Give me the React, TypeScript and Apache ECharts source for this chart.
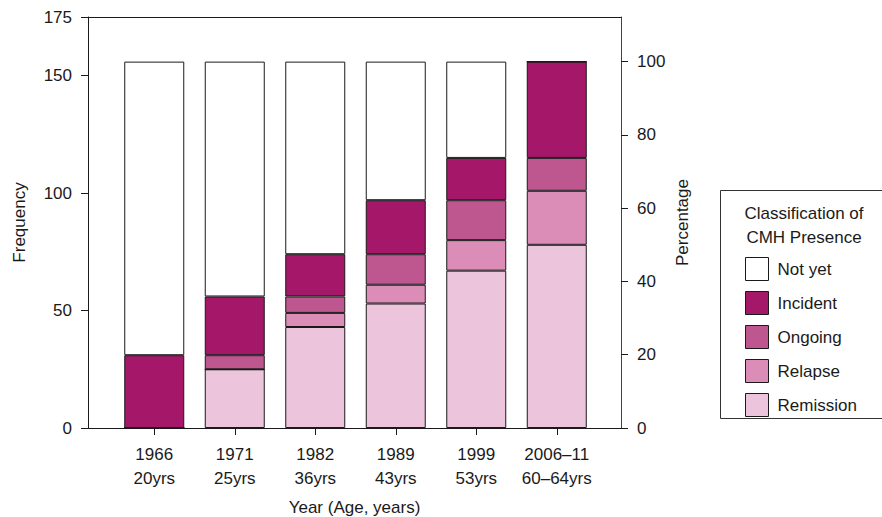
import React, { useEffect, useRef } from "react";
import * as echarts from "echarts";

// Survey waves (year / age) and CMH status counts per wave
const years = ["1966\n20yrs", "1971\n25yrs", "1982\n36yrs", "1989\n43yrs", "1999\n53yrs", "2006–11\n60–64yrs"];
const remission = [0, 25, 43, 53, 67, 78];
const relapse = [0, 0, 6, 8, 13, 23];
const ongoing = [0, 6, 7, 13, 17, 14];
const incident = [31, 25, 18, 23, 18, 41];
const notYet = [125, 100, 82, 59, 41, 0];

const cohortSize = 156;
const freqMax = 175;
const freqStep = 50;
const pctMax = 100;
const pctStep = 20;

const FONT = "'Liberation Sans', Arial, Helvetica, sans-serif";
const INK = "#1a1a1a";

// plot frame geometry
const PLOT_LEFT = 88;
const PLOT_TOP = 17;
const PLOT_W = 533;
const PLOT_H = 411;
const pxPerUnit = PLOT_H / freqMax;
const pctH = cohortSize * pxPerUnit;

export default function App() {
  const ref = useRef<HTMLDivElement>(null);

  useEffect(() => {
    document.body.style.margin = "0";
    const chart = echarts.init(ref.current!, null, { renderer: "svg" });

    const mk = (name: string, data: number[], color: string) => ({
      name,
      type: "bar",
      stack: "total",
      data,
      xAxisIndex: 2,
      yAxisIndex: 2,
      barWidth: 60,
      itemStyle: { color, borderColor: INK, borderWidth: 1 },
      emphasis: { disabled: true },
    });

    const lineOnly = {
      axisLine: { show: true, onZero: false, lineStyle: { color: INK, width: 1 } },
      axisTick: { show: false },
      axisLabel: { show: false },
      splitLine: { show: false },
    };

    const gridBase = { outerBoundsMode: "none", containLabel: false };

    chart.setOption({
      animation: false,
      textStyle: { fontFamily: FONT, color: INK },
      grid: [
        { left: PLOT_LEFT, top: PLOT_TOP, width: PLOT_W, height: PLOT_H, ...gridBase },
        { left: 114, top: PLOT_TOP, width: 483, height: PLOT_H, ...gridBase },
        { left: PLOT_LEFT, top: PLOT_TOP + PLOT_H - pctH, width: PLOT_W, height: pctH, ...gridBase },
      ],
      xAxis: [
        {
          gridIndex: 0,
          type: "value",
          position: "bottom",
          min: 1,
          max: 2,
          ...lineOnly,
          name: "Year (Age, years)",
          nameLocation: "middle",
          nameGap: 71,
          nameTextStyle: { fontSize: 17, color: INK, fontFamily: FONT },
        },
        { gridIndex: 0, type: "value", position: "top", min: 1, max: 2, ...lineOnly },
        {
          gridIndex: 1,
          type: "category",
          data: years,
          axisLine: { show: false, onZero: false },
          axisTick: { show: true, alignWithLabel: true, length: 7, lineStyle: { color: INK } },
          axisLabel: {
            fontSize: 17,
            color: INK,
            fontFamily: FONT,
            lineHeight: 24,
            margin: 14,
            interval: 0,
          },
        },
        { gridIndex: 2, type: "value", min: 1, max: 2, show: false, axisLine: { onZero: false } },
      ],
      yAxis: [
        {
          gridIndex: 0,
          type: "value",
          position: "left",
          min: 0,
          max: freqMax,
          interval: freqStep,
          axisLine: { show: true, onZero: false, lineStyle: { color: INK, width: 1 } },
          axisTick: { show: true, length: 7, lineStyle: { color: INK } },
          axisLabel: { fontSize: 17, color: INK, margin: 16, fontFamily: FONT, showMaxLabel: true },
          splitLine: { show: false },
          name: "Frequency",
          nameLocation: "middle",
          nameRotate: 90,
          nameGap: 60,
          nameTextStyle: { fontSize: 17, color: INK, fontFamily: FONT },
        },
        {
          gridIndex: 0,
          type: "value",
          position: "right",
          min: 0,
          max: 1,
          axisLine: { show: true, onZero: false, lineStyle: { color: "#444", width: 1 } },
          axisTick: { show: false },
          axisLabel: { show: false },
          splitLine: { show: false },
          name: "Percentage",
          nameLocation: "middle",
          nameRotate: 90,
          nameGap: 53,
          nameTextStyle: { fontSize: 17, color: INK, fontFamily: FONT },
        },
        { gridIndex: 1, type: "value", min: 0, max: freqMax, show: false, axisLine: { onZero: false } },
        {
          gridIndex: 2,
          type: "value",
          position: "right",
          min: 0,
          max: pctMax,
          interval: pctStep,
          axisLine: { show: false, onZero: false },
          axisTick: { show: true, length: 7, lineStyle: { color: INK } },
          axisLabel: { fontSize: 17, color: INK, margin: 16, fontFamily: FONT },
          splitLine: { show: false },
        },
      ],
      legend: {
        orient: "vertical",
        left: 745,
        top: 257,
        padding: 0,
        itemWidth: 23,
        itemHeight: 23,
        itemGap: 10,
        icon: "rect",
        data: ["Not yet", "Incident", "Ongoing", "Relapse", "Remission"],
        itemStyle: { borderColor: INK, borderWidth: 1 },
        textStyle: { fontSize: 17, color: INK, fontFamily: FONT, lineHeight: 23, padding: [0, 0, 0, 4] },
        selectedMode: false,
      },
      graphic: [
        {
          type: "rect",
          shape: { x: 720.5, y: 190.5, width: 180, height: 228 },
          style: { fill: "none", stroke: "#333", lineWidth: 1 },
        },
        {
          type: "text",
          x: 804,
          y: 213,
          style: {
            text: "Classification of",
            fontSize: 17,
            fontFamily: FONT,
            fill: INK,
            align: "center",
            verticalAlign: "middle",
          },
        },
        {
          type: "text",
          x: 804,
          y: 237,
          style: {
            text: "CMH Presence",
            fontSize: 17,
            fontFamily: FONT,
            fill: INK,
            align: "center",
            verticalAlign: "middle",
          },
        },
      ],
      series: [
        mk("Remission", remission, "#ECC5DC"),
        mk("Relapse", relapse, "#DB8DB7"),
        mk("Ongoing", ongoing, "#BE5690"),
        mk("Incident", incident, "#A51769"),
        mk("Not yet", notYet, "#FFFFFF"),
      ],
    });

    return () => chart.dispose();
  }, []);

  return <div ref={ref} style={{ width: 882, height: 517 }} />;
}
